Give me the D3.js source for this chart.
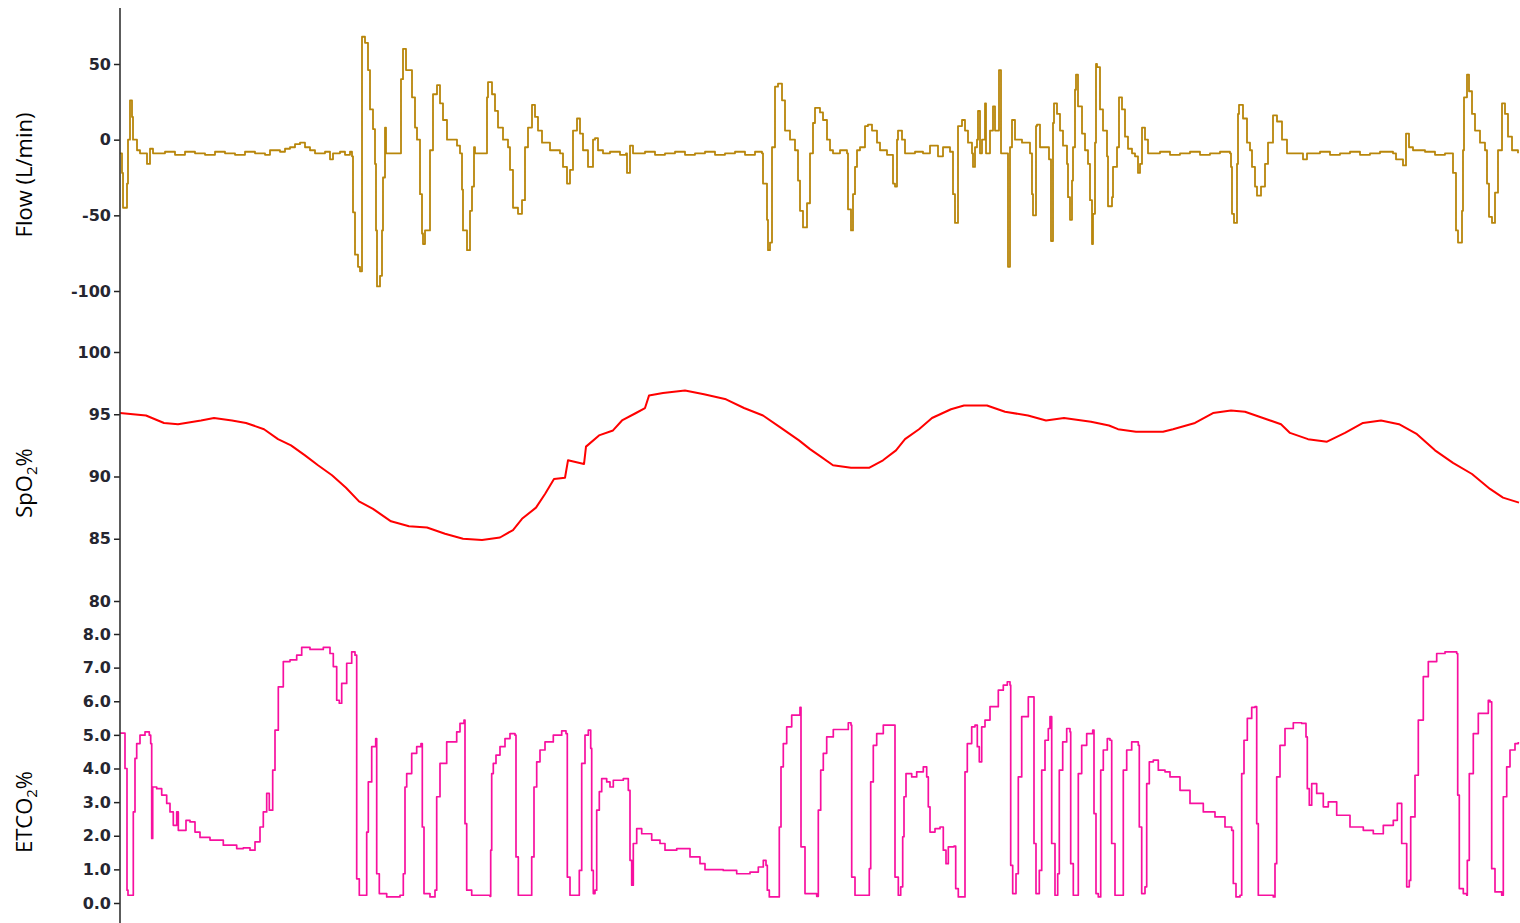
<!DOCTYPE html>
<html>
<head>
<meta charset="utf-8">
<script src="https://cdn.jsdelivr.net/npm/d3@7"></script>
<style>
  body { margin: 0; background: #fff; }
  .tick text { font-family: "DejaVu Sans", Verdana, sans-serif; font-size: 16px; font-weight: bold; fill: #262630; }
  .tick line { stroke: #222; stroke-width: 1.5px; }
  .title { font-family: "Open Sans", "Liberation Sans", sans-serif; font-size: 22px; fill: #000; }
</style>
</head>
<body>
<script>
//------------------------1. DATA------------------------//
// time in seconds, value
const flowData = [
  [0,-9],[0.2,-22],[0.3,-45],[0.7,-29],[0.8,0],[1.0,26],[1.2,15],[1.3,0],[1.7,-7],[2.0,-9],[2.7,-16],[3.0,-6],[3.3,-9],
  [4.5,-8],[5.5,-10],[6.5,-8],[7.5,-9],[8.5,-10],[9.5,-8],[10.5,-9],[11.5,-10],[12.5,-8],[13.5,-9],[14.5,-10],[15.0,-7],
  [16.0,-8],[16.5,-6],[17.0,-5],[17.5,-3],[18.0,-2],[18.5,-5],[19.0,-7],[19.5,-9],[20.5,-8],[21.0,-13],[21.3,-9],[22.0,-8],[22.5,-10],[23.0,-8],
  [23.2,-11],[23.3,-48],[23.5,-76],[23.8,-84],[24.0,-87],[24.2,68],[24.5,64],[24.8,46],[25.0,20],[25.3,7],[25.5,-16],[25.6,-60],
  [25.7,-97],[26.0,-90],[26.2,-60],[26.3,-25],[26.5,8],[26.6,-9],
  [28.0,-9],[28.1,40],[28.3,60],[28.6,46],[29.2,28],[29.5,8],[29.7,0],[30.0,-36],[30.2,-62],[30.3,-69],[30.5,-60],[31.0,-7],
  [31.3,30],[31.7,36],[32.0,24],[32.3,13],[32.7,0],[33.7,-4],[34.0,-9],[34.2,-33],[34.3,-60],[34.7,-73],[35.0,-47],[35.2,-31],[35.4,-5],[35.5,-9],
  [36.6,-9],[36.7,28],[36.8,38],[37.2,30],[37.5,19],[37.8,8],[38.3,0],[38.8,-5],[39.0,-20],[39.3,-45],[39.8,-49],[40.2,-40],[40.5,-5],
  [40.8,8],[41.2,23],[41.5,15],[41.8,6],[42.2,-2],[43.0,-7],[44.0,-9],[44.3,-18],[44.7,-29],[45.0,-20],[45.3,6],[45.7,14],[46.0,4],
  [46.3,-7],[46.8,-18],[47.3,0],[47.5,1],[47.8,-7],[48.3,-9],[49.0,-8],[50.0,-10],[50.6,-9],[50.7,-22],[51.0,-4],[51.3,-9],
  [52.5,-8],[53.5,-10],[54.5,-9],[55.5,-8],[56.5,-10],[57.5,-9],[58.5,-8],[59.5,-10],[60.5,-9],[61.5,-8],[62.5,-10],[63.5,-8],[64.2,-9],
  [64.3,-29],[64.7,-53],[64.8,-73],[65.0,-68],[65.2,-5],[65.5,35],[65.8,37],[66.2,26],[66.5,6],[67.0,0],[67.5,-7],[67.8,-27],
  [68.0,-47],[68.3,-58],[68.7,-42],[69.0,-9],[69.3,11],[69.5,21],[70.0,18],[70.3,13],[70.7,0],[71.0,-7],[71.3,-9],[72.0,-7],
  [72.7,-9],[72.8,-46],[73.1,-60],[73.3,-36],[73.5,-18],[73.7,-7],[74.0,-5],[74.5,9],[74.8,10],[75.2,6],[75.7,-2],[76.0,-7],
  [76.7,-10],[77.3,-29],[77.5,-31],[77.7,0],[77.8,6],[78.2,0],[78.5,-9],[79.5,-8],[80.3,-9],[81.0,-4],[81.8,-11],[82.3,-5],
  [83.0,-8],[83.3,-36],[83.5,-55],[83.8,9],[84.2,13],[84.5,6],[84.8,-2],[85.2,-9],[85.3,-18],[85.5,-5],[85.7,0],[85.8,19],
  [86.0,-9],[86.2,0],[86.5,24],[86.6,-9],[87.0,6],[87.3,22],[87.5,6],[87.9,46],[88.1,-9],[88.5,-9],[88.8,-84],[89.0,-5],
  [89.2,13],[89.5,0],[90.2,-2],[91.0,-9],[91.2,-36],[91.3,-50],[91.6,9],[91.7,10],[92.0,-5],[92.7,-5],[92.9,-13],[93.1,-67],
  [93.3,11],[93.4,24],[93.7,17],[94.0,6],[94.3,-4],[94.7,-16],[94.8,-38],[95.0,-53],[95.2,-27],[95.3,-5],[95.5,33],[95.6,43],
  [95.8,22],[96.2,4],[96.5,-7],[96.8,-16],[97.0,-40],[97.2,-69],[97.3,-49],[97.5,-2],[97.6,50],[97.7,48],[98.0,20],[98.3,6],
  [98.7,-11],[98.8,-44],[99.2,-38],[99.3,-18],[99.7,-5],[99.9,28],[100.2,20],[100.5,2],[100.8,-6],[101.2,-9],[101.5,-11],
  [101.8,-22],[102.0,-16],[102.2,8],[102.5,0],[102.8,-9],
  [104.0,-8],[105.0,-10],[106.0,-9],[107.0,-8],[108.0,-10],[109.0,-9],[110.0,-8],[111.0,-9],
  [111.1,-18],[111.2,-49],[111.4,-55],[111.7,-16],[111.8,17],[111.9,23],[112.3,14],[112.7,-2],[113.0,-7],[113.2,-18],[113.5,-31],
  [113.7,-37],[114.1,-31],[114.5,-16],[114.8,-2],[115.3,16],[115.7,12],[116.2,0],[116.7,-9],[118.0,-9],[118.3,-13],[118.7,-9],
  [120.0,-8],[121.0,-10],[122.0,-9],[123.0,-8],[124.0,-10],[125.0,-9],[126.0,-8],[127.3,-9],
  [127.6,-13],[128.3,-17],[128.6,4],[128.9,-5],[129.3,-7],[130.5,-8],[131.5,-10],[132.5,-9],[133.0,-9],
  [133.3,-22],[133.6,-60],[133.8,-68],[134.2,-47],[134.3,-7],[134.4,28],[134.7,43],[134.9,32],[135.2,17],[135.5,6],[136.0,-2],
  [136.5,-7],[136.7,-29],[136.9,-51],[137.2,-55],[137.5,-35],[137.8,-7],[138.2,24],[138.5,17],[138.8,2],[139.2,-7],[139.8,-9]
];

const spo2Data = [
  [0,95.1],[2.6,94.9],[4.4,94.3],[5.8,94.2],[8.1,94.5],[9.4,94.7],[11.2,94.5],[12.6,94.3],[14.4,93.8],[15.8,93.0],
  [17.1,92.5],[18.5,91.7],[19.8,90.9],[21.2,90.1],[22.6,89.1],[23.9,88.0],[25.3,87.4],[27.1,86.4],[28.9,86.0],[30.7,85.9],
  [32.5,85.4],[34.3,85.0],[36.2,84.9],[38.0,85.1],[39.3,85.7],[40.2,86.6],[41.6,87.5],[42.5,88.6],[43.4,89.8],[44.5,89.9],
  [44.8,91.3],[46.4,91.0],[46.6,92.4],[47.9,93.3],[49.3,93.7],[50.2,94.5],[51.6,95.1],[52.5,95.5],[52.9,96.5],[54.3,96.7],
  [56.5,96.9],[58.4,96.6],[60.6,96.2],[62.4,95.5],[64.3,94.9],[66.1,93.9],[67.9,92.9],[69.0,92.2],[69.9,91.7],[71.3,90.9],
  [73.1,90.7],[74.9,90.7],[76.3,91.3],[77.6,92.1],[78.5,93.0],[79.9,93.8],[81.2,94.7],[83.1,95.4],[84.4,95.7],[86.7,95.7],
  [88.5,95.2],[90.8,94.9],[92.6,94.5],[94.4,94.7],[97.1,94.4],[98.9,94.1],[99.8,93.8],[101.6,93.6],[104.3,93.6],[105.3,93.8],
  [107.5,94.3],[109.3,95.1],[111.1,95.3],[112.5,95.2],[114.3,94.7],[116.1,94.2],[117.0,93.5],[118.8,93.0],[120.7,92.8],
  [122.5,93.5],[124.3,94.3],[126.1,94.5],[127.9,94.2],[129.7,93.4],[131.5,92.1],[133.3,91.1],[135.2,90.2],[137.0,89.0],
  [138.3,88.3],[139.9,87.9]
];

const etco2Data = [
  [0,5.05],[0.4,5.05],[0.5,4.0],[0.7,0.38],[0.8,0.23],[1.27,0.23],[1.33,2.71],[1.5,4.3],[1.67,4.74],[2.0,4.99],[2.5,5.09],
  [2.93,4.99],[3.07,4.74],[3.17,1.92],[3.27,3.45],[3.67,3.4],[4.17,3.21],[4.67,2.96],[5.0,2.71],[5.33,2.31],[5.67,2.71],
  [5.83,2.16],[6.33,2.16],[6.6,2.46],[7.0,2.41],[7.5,2.11],[8.0,1.95],[9.0,1.87],[10.33,1.72],[11.67,1.62],[12.33,1.64],
  [13.0,1.57],[13.5,1.82],[14.0,2.26],[14.33,2.71],[14.67,3.26],[14.93,2.76],[15.27,3.95],[15.5,5.14],[15.83,6.43],
  [16.33,7.18],[17.0,7.23],[17.67,7.37],[18.17,7.6],[19.0,7.54],[20.33,7.6],[21.0,7.42],[21.33,7.03],[21.67,6.03],
  [21.93,5.94],[22.17,6.53],[22.67,7.13],[23.17,7.47],[23.5,7.37],[23.67,0.72],[23.93,0.23],[24.6,0.23],[24.67,2.11],
  [24.83,3.6],[25.17,4.65],[25.57,4.89],[25.67,0.87],[25.93,0.28],[26.67,0.18],[28.0,0.23],[28.33,0.87],[28.5,3.45],
  [28.67,3.85],[29.17,4.45],[29.67,4.65],[30.1,4.74],[30.23,2.26],[30.4,0.28],[31.0,0.18],[31.5,0.38],[31.67,3.16],
  [32.0,4.15],[32.67,4.79],[33.67,5.09],[34.0,5.34],[34.4,5.44],[34.5,2.36],[34.67,0.38],[35.17,0.23],[37.0,0.2],
  [37.07,1.57],[37.17,3.85],[37.33,4.15],[37.6,4.4],[38.0,4.65],[38.5,4.89],[39.0,5.04],[39.5,4.99],[39.6,1.37],
  [39.83,0.23],[41.0,0.23],[41.17,1.37],[41.4,3.45],[41.67,4.2],[42.0,4.55],[42.5,4.79],[43.33,4.99],[44.17,5.12],
  [44.6,5.04],[44.73,0.77],[45.0,0.23],[45.83,0.23],[45.93,0.97],[46.17,4.15],[46.5,4.99],[46.83,5.14],[47.07,4.6],
  [47.17,0.97],[47.33,0.28],[47.5,0.38],[47.67,2.76],[47.93,3.31],[48.17,3.7],[48.67,3.6],[49.0,3.45],[49.33,3.65],
  [50.33,3.7],[50.83,3.35],[51.0,1.27],[51.17,0.53],[51.33,1.77],[51.67,2.21],[52.17,2.06],[53.17,1.87],[54.0,1.77],
  [54.5,1.57],[55.67,1.62],[56.67,1.62],[57.0,1.37],[58.0,1.17],[58.5,0.99],[60.33,0.97],[61.67,0.87],[63.0,0.92],
  [63.83,1.07],[64.33,1.27],[64.6,1.12],[64.73,0.38],[64.93,0.18],[65.83,0.18],[65.93,2.26],[66.1,4.05],[66.33,4.74],
  [66.67,5.24],[67.17,5.59],[68.0,5.82],[68.1,1.67],[68.5,0.28],[69.67,0.2],[69.83,2.76],[70.07,3.95],[70.33,4.45],
  [70.67,4.94],[71.33,5.16],[72.33,5.16],[72.83,5.36],[73.1,5.29],[73.17,0.77],[73.5,0.23],[74.83,0.23],[74.93,1.02],
  [75.07,3.6],[75.33,4.69],[75.67,5.04],[76.33,5.29],[77.33,5.29],[77.5,0.77],[77.83,0.23],[78.07,0.48],[78.27,1.97],
  [78.4,3.16],[78.6,3.85],[79.17,3.75],[79.67,3.9],[80.33,4.05],[80.67,3.75],[80.83,2.86],[81.0,2.11],[81.5,2.21],
  [82.0,2.26],[82.33,1.57],[82.6,1.17],[82.83,1.67],[83.4,1.69],[83.57,0.43],[83.83,0.18],[84.33,0.18],[84.5,3.9],
  [84.73,4.74],[85.17,5.24],[85.5,5.29],[85.73,4.65],[85.93,4.2],[86.17,5.24],[86.5,5.44],[87.0,5.84],[87.5,5.84],
  [87.83,6.33],[88.33,6.48],[88.73,6.58],[89.0,6.48],[89.07,1.12],[89.27,0.28],[89.6,0.87],[89.83,3.75],[90.17,5.54],
  [90.83,6.13],[91.27,6.13],[91.4,1.77],[91.6,0.28],[91.93,0.97],[92.17,3.95],[92.5,4.84],[92.83,5.19],[93.0,5.54],
  [93.17,1.77],[93.5,0.23],[93.77,0.87],[93.93,3.95],[94.27,4.79],[94.67,5.19],[95.0,5.09],[95.07,1.17],[95.33,0.23],
  [95.67,0.23],[95.83,3.85],[96.17,4.69],[96.67,5.04],[97.27,5.14],[97.4,2.66],[97.6,0.28],[97.83,0.18],[98.07,3.95],
  [98.33,4.55],[98.73,4.89],[99.0,4.84],[99.17,1.77],[99.5,0.23],[100.17,0.23],[100.33,3.95],[100.67,4.55],[101.17,4.79],
  [101.83,4.69],[101.93,2.26],[102.17,0.28],[102.5,0.48],[102.67,3.55],[102.93,4.2],[103.33,4.25],[103.83,3.95],[104.5,3.9],
  [105.0,3.75],[106.0,3.35],[107.0,2.96],[108.33,2.71],[109.5,2.56],[110.5,2.26],[111.17,2.16],[111.33,0.58],[111.6,0.18],
  [112.0,0.23],[112.17,3.85],[112.4,4.84],[112.73,5.49],[113.17,5.82],[113.5,5.84],[113.67,2.36],[113.83,0.23],[115.33,0.18],
  [115.5,1.17],[115.67,3.75],[116.0,4.69],[116.5,5.19],[117.33,5.36],[118.17,5.34],[118.6,4.94],[118.73,3.4],[118.93,2.91],
  [119.17,3.55],[119.67,3.26],[120.33,2.86],[120.83,3.01],[121.67,2.61],[123.0,2.26],[124.33,2.16],[125.33,2.06],[126.33,2.31],
  [127.33,2.46],[127.73,2.96],[128.17,1.77],[128.67,0.48],[128.93,0.67],[129.07,2.56],[129.5,3.8],[129.83,5.44],[130.33,6.73],
  [130.83,7.18],[131.67,7.42],[132.5,7.47],[133.67,7.42],[133.77,3.21],[133.93,0.43],[134.33,0.28],[134.67,0.23],[134.73,1.27],
  [134.93,3.85],[135.33,5.04],[135.83,5.64],[136.83,6.03],[137.0,5.98],[137.17,1.02],[137.5,0.33],[138.17,0.23],[138.33,3.16],
  [138.67,4.05],[139.0,4.55],[139.5,4.74],[139.83,4.79]
];

// tick values for each panel
const flowTicks = [50, 0, -50, -100];
const spo2Ticks = [100, 95, 90, 85, 80];
const etco2Ticks = [8, 7, 6, 5, 4, 3, 2, 1, 0];
const timeDomain = [0, 140];

//------------------------2. SVG------------------------//
const width = 1520;
const height = 923;
const axisX = 120;

const svg = d3.select('body')
  .append('svg')
  .attr('width', width)
  .attr('height', height)
  .style('display', 'block');

const xScale = d3.scaleLinear().domain(timeDomain).range([axisX, width]);

// each panel: scale, ticks, format, colour, curve, title
const panels = [
  { data: flowData, ticks: flowTicks, domain: [-100, 50], range: [291, 64],
    fmt: d => String(d), color: '#b8860b', sw: 1.8, curve: d3.curveStepAfter, titleY: 175 },
  { data: spo2Data, ticks: spo2Ticks, domain: [80, 100], range: [601, 352],
    fmt: d => String(d), color: '#ff0000', sw: 2, curve: d3.curveLinear, titleY: 483 },
  { data: etco2Data, ticks: etco2Ticks, domain: [0, 8], range: [903, 634],
    fmt: d3.format('.1f'), color: '#f7109f', sw: 1.7, curve: d3.curveStepAfter, titleY: 812 }
];

panels.forEach(function (p, i) {
  p.y = d3.scaleLinear().domain(p.domain).range(p.range);

  const ax = svg.append('g')
    .attr('transform', 'translate(' + axisX + ',0)')
    .call(d3.axisLeft(p.y).tickValues(p.ticks).tickFormat(p.fmt).tickSize(6).tickPadding(3));
  ax.select('.domain').remove();

  const line = d3.line()
    .x(d => xScale(d[0]))
    .y(d => p.y(d[1]))
    .curve(p.curve);

  svg.append('path')
    .datum(p.data)
    .attr('fill', 'none')
    .attr('stroke', p.color)
    .attr('stroke-width', p.sw)
    .attr('stroke-linejoin', 'round')
    .attr('d', line);
});

// shared vertical axis line
svg.append('line')
  .attr('x1', axisX).attr('x2', axisX)
  .attr('y1', 8).attr('y2', height)
  .attr('stroke', '#333')
  .attr('stroke-width', 1.6);

//------------------------3. TITLES------------------------//
function title(y, parts) {
  const t = svg.append('text')
    .attr('class', 'title')
    .attr('transform', 'translate(32,' + y + ') rotate(-90)')
    .attr('text-anchor', 'middle');
  parts.forEach(function (s) {
    if (s.sub) {
      t.append('tspan').attr('font-size', '15px').attr('dy', 5).text(s.text);
    } else {
      t.append('tspan').attr('dy', s.after ? -5 : 0).text(s.text);
    }
  });
}

title(panels[0].titleY, [{ text: 'Flow (L/min)' }]);
title(panels[1].titleY, [{ text: 'SpO' }, { text: '2', sub: true }, { text: '%', after: true }]);
title(panels[2].titleY, [{ text: 'ETCO' }, { text: '2', sub: true }, { text: '%', after: true }]);
</script>
</body>
</html>
